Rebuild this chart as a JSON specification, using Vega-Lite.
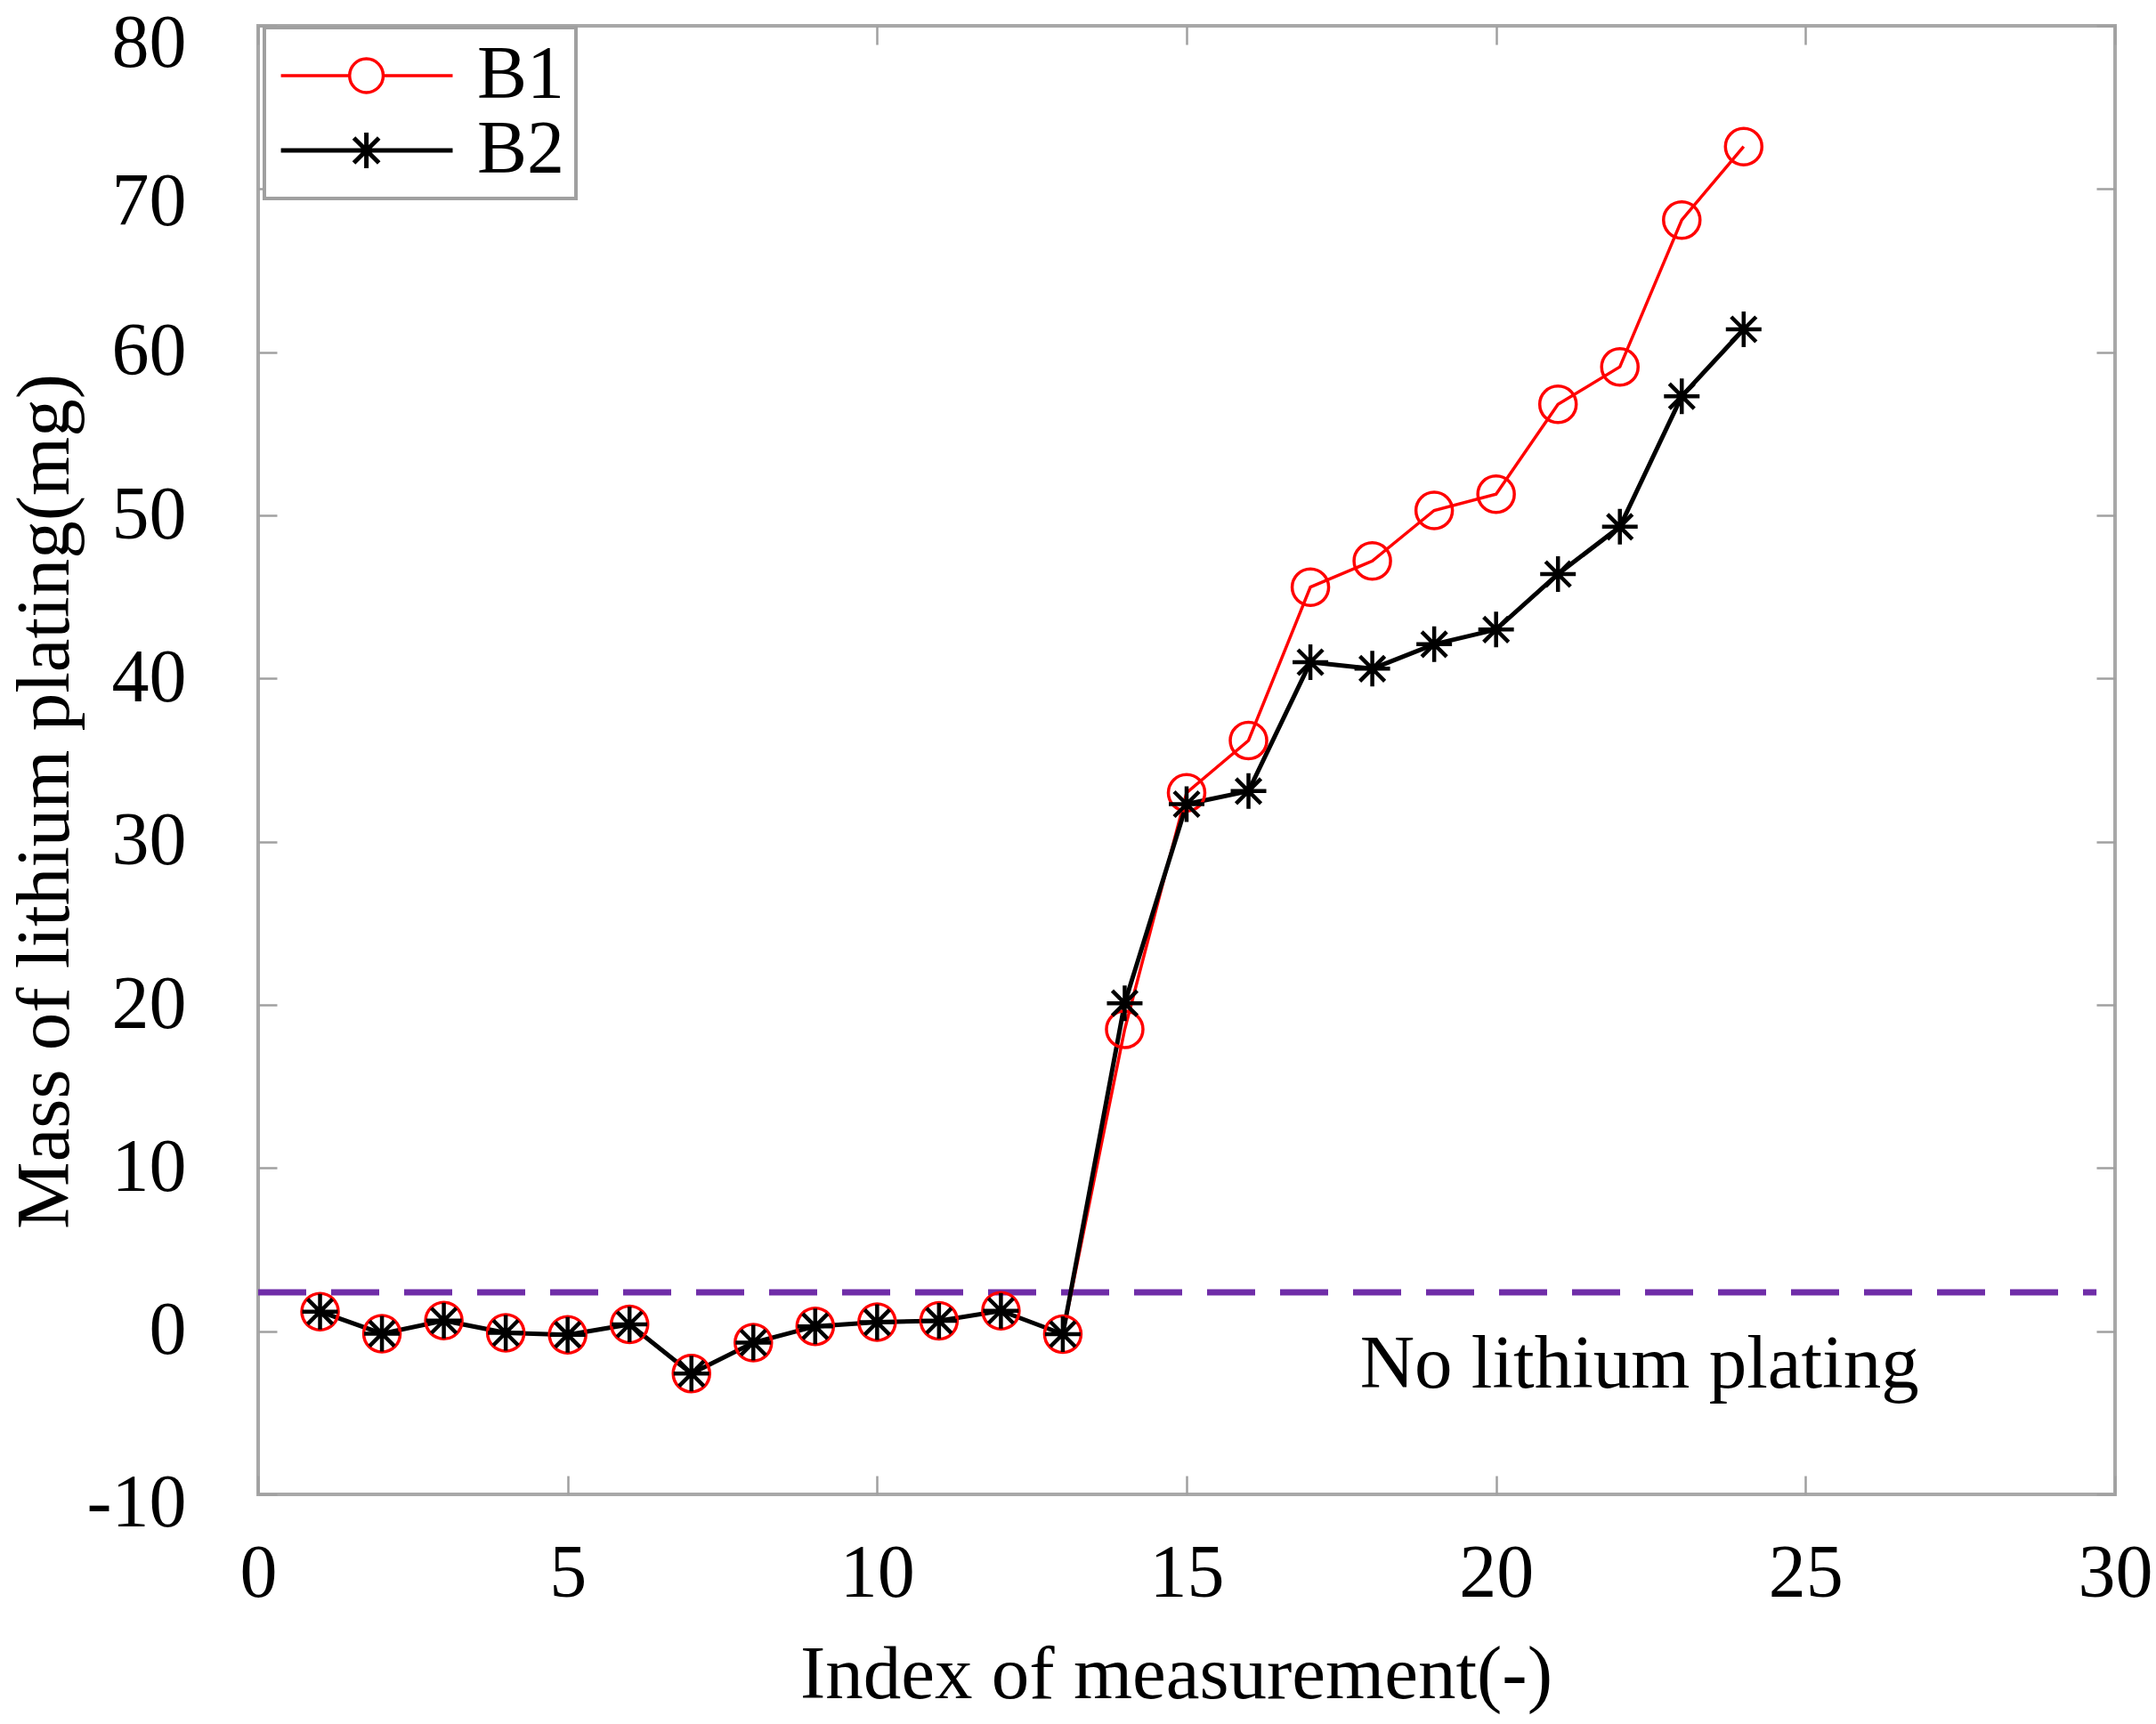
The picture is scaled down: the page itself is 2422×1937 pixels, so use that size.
{
  "$schema": "https://vega.github.io/schema/vega-lite/v6.json",
  "width": 2086,
  "height": 1650,
  "autosize": {"type": "none"},
  "padding": {"left": 290, "top": 29, "right": 46, "bottom": 258},
  "background": "white",
  "datasets": {
    "plating": [
      {"index": 1, "mass": 1.2, "battery": "B1"},
      {"index": 2, "mass": -0.15, "battery": "B1"},
      {"index": 3, "mass": 0.65, "battery": "B1"},
      {"index": 4, "mass": -0.1, "battery": "B1"},
      {"index": 5, "mass": -0.22, "battery": "B1"},
      {"index": 6, "mass": 0.42, "battery": "B1"},
      {"index": 7, "mass": -2.6, "battery": "B1"},
      {"index": 8, "mass": -0.7, "battery": "B1"},
      {"index": 9, "mass": 0.3, "battery": "B1"},
      {"index": 10, "mass": 0.55, "battery": "B1"},
      {"index": 11, "mass": 0.64, "battery": "B1"},
      {"index": 12, "mass": 1.25, "battery": "B1"},
      {"index": 13, "mass": -0.18, "battery": "B1"},
      {"index": 14, "mass": 18.5, "battery": "B1"},
      {"index": 15, "mass": 33.0, "battery": "B1"},
      {"index": 16, "mass": 36.2, "battery": "B1"},
      {"index": 17, "mass": 45.6, "battery": "B1"},
      {"index": 18, "mass": 47.2, "battery": "B1"},
      {"index": 19, "mass": 50.3, "battery": "B1"},
      {"index": 20, "mass": 51.3, "battery": "B1"},
      {"index": 21, "mass": 56.8, "battery": "B1"},
      {"index": 22, "mass": 59.1, "battery": "B1"},
      {"index": 23, "mass": 68.1, "battery": "B1"},
      {"index": 24, "mass": 72.6, "battery": "B1"},
      {"index": 1, "mass": 1.2, "battery": "B2"},
      {"index": 2, "mass": -0.15, "battery": "B2"},
      {"index": 3, "mass": 0.65, "battery": "B2"},
      {"index": 4, "mass": -0.1, "battery": "B2"},
      {"index": 5, "mass": -0.22, "battery": "B2"},
      {"index": 6, "mass": 0.42, "battery": "B2"},
      {"index": 7, "mass": -2.6, "battery": "B2"},
      {"index": 8, "mass": -0.7, "battery": "B2"},
      {"index": 9, "mass": 0.3, "battery": "B2"},
      {"index": 10, "mass": 0.55, "battery": "B2"},
      {"index": 11, "mass": 0.64, "battery": "B2"},
      {"index": 12, "mass": 1.25, "battery": "B2"},
      {"index": 13, "mass": -0.18, "battery": "B2"},
      {"index": 14, "mass": 20.1, "battery": "B2"},
      {"index": 15, "mass": 32.3, "battery": "B2"},
      {"index": 16, "mass": 33.1, "battery": "B2"},
      {"index": 17, "mass": 41.0, "battery": "B2"},
      {"index": 18, "mass": 40.6, "battery": "B2"},
      {"index": 19, "mass": 42.1, "battery": "B2"},
      {"index": 20, "mass": 43.0, "battery": "B2"},
      {"index": 21, "mass": 46.4, "battery": "B2"},
      {"index": 22, "mass": 49.3, "battery": "B2"},
      {"index": 23, "mass": 57.3, "battery": "B2"},
      {"index": 24, "mass": 61.4, "battery": "B2"}
    ],
    "threshold": [{"start": 0, "end": 29.7, "mass": 2.38}],
    "notes": [{"index": 17.8, "mass": -3.45, "label": "No lithium plating"}]
  },
  "layer": [
    {
      "data": {"name": "threshold"},
      "mark": {"type": "rule", "color": "#6f2da8", "strokeWidth": 7, "strokeDash": [54, 28]},
      "encoding": {
        "x": {
          "field": "start",
          "type": "quantitative",
          "scale": {"domain": [0, 30], "nice": false},
          "axis": {"orient": "top", "labels": false, "title": null, "values": [0, 5, 10, 15, 20, 25, 30], "tickSize": -21, "domain": false, "grid": false}
        },
        "x2": {"field": "end"},
        "y": {
          "field": "mass",
          "type": "quantitative",
          "scale": {"domain": [-10, 80], "nice": false},
          "axis": {"orient": "right", "labels": false, "title": null, "values": [-10, 0, 10, 20, 30, 40, 50, 60, 70, 80], "tickSize": -21, "domain": false, "grid": false}
        }
      }
    },
    {
      "data": {"name": "plating"},
      "mark": {"type": "line"},
      "encoding": {
        "x": {
          "field": "index",
          "type": "quantitative",
          "title": "Index of measurement(-)",
          "axis": {
            "orient": "bottom",
            "values": [0, 5, 10, 15, 20, 25, 30],
            "tickSize": -21,
            "labelPadding": 135,
            "labelFlush": false,
            "labelBaseline": "alphabetic",
            "labelExpr": "'' + datum.value",
            "titleX": 1031,
            "titleY": 228,
            "titleBaseline": "alphabetic",
            "titleAlign": "center"
          }
        },
        "y": {
          "field": "mass",
          "type": "quantitative",
          "title": "Mass of lithium plating(mg)",
          "axis": {
            "orient": "left",
            "values": [-10, 0, 10, 20, 30, 40, 50, 60, 70, 80],
            "tickSize": -21,
            "labelPadding": 102,
            "labelAlign": "right",
            "labelBaseline": "middle",
            "labelExpr": "'' + datum.value",
            "labelOffset": {
              "condition": [
                {"test": "datum.value === 80", "value": 20},
                {"test": "datum.value === 70", "value": 15},
                {"test": "datum.value === -10", "value": 10}
              ],
              "value": 0
            },
            "titleX": -214,
            "titleY": 871,
            "titleAngle": -90,
            "titleBaseline": "alphabetic",
            "titleAlign": "center"
          }
        },
        "color": {
          "field": "battery",
          "type": "nominal",
          "scale": {"domain": ["B1", "B2"], "range": ["#ff0000", "#000000"]},
          "legend": {
            "title": null,
            "orient": "none",
            "legendX": 7,
            "legendY": 2,
            "padding": 12,
            "fillColor": "white",
            "strokeColor": "#a0a0a0",
            "cornerRadius": 0,
            "rowPadding": 0,
            "labelFontSize": 84,
            "labelFont": "Liberation Serif",
            "labelColor": "black",
            "labelOffset": 143,
            "labelExpr": "datum.label + '\u00a0'",
            "symbolSize": 3600,
            "symbolStrokeWidth": 4,
            "encode": {
              "legend": {"update": {"strokeWidth": {"value": 4}}}
            }
          }
        },
        "strokeWidth": {
          "field": "battery",
          "type": "nominal",
          "scale": {"domain": ["B1", "B2"], "range": [3.5, 5]},
          "legend": null
        }
      }
    },
    {
      "data": {"name": "plating"},
      "transform": [{"filter": "false"}],
      "mark": {"type": "point", "filled": false, "size": 3600, "strokeWidth": 4, "opacity": 1},
      "encoding": {
        "x": {"field": "index", "type": "quantitative", "axis": null},
        "y": {"field": "mass", "type": "quantitative", "axis": null},
        "color": {"field": "battery", "type": "nominal"},
        "shape": {
          "field": "battery",
          "type": "nominal",
          "scale": {
            "domain": ["B1", "B2"],
            "range": [
              "M-1.18,0H1.39M2.65,0H5.25M2.65,0A0.63,0.63 0 1 1 1.39,0A0.63,0.63 0 1 1 2.65,0",
              "M-1.18,0H5.25M2.02,-0.67V0.67M1.55,-0.47L2.49,0.47M1.55,0.47L2.49,-0.47"
            ]
          }
        }
      }
    },
    {
      "data": {"name": "plating"},
      "transform": [{"filter": "datum.battery === 'B1'"}],
      "mark": {"type": "point", "shape": "circle", "filled": false, "color": "#ff0000", "size": 1681, "strokeWidth": 3.5, "opacity": 1},
      "encoding": {
        "x": {"field": "index", "type": "quantitative", "axis": null},
        "y": {"field": "mass", "type": "quantitative", "axis": null}
      }
    },
    {
      "data": {"name": "plating"},
      "transform": [{"filter": "datum.battery === 'B2'"}],
      "mark": {"type": "point", "shape": "M-1,0H1M0,-1V1M-0.7,-0.7L0.7,0.7M-0.7,0.7L0.7,-0.7", "filled": false, "color": "#000000", "size": 1600, "strokeWidth": 4.5, "opacity": 1},
      "encoding": {
        "x": {"field": "index", "type": "quantitative", "axis": null},
        "y": {"field": "mass", "type": "quantitative", "axis": null}
      }
    },
    {
      "data": {"name": "notes"},
      "mark": {"type": "text", "align": "left", "baseline": "alphabetic", "font": "Liberation Serif", "fontSize": 85, "color": "black"},
      "encoding": {
        "x": {"field": "index", "type": "quantitative", "axis": null},
        "y": {"field": "mass", "type": "quantitative", "axis": null},
        "text": {"field": "label"}
      }
    }
  ],
  "resolve": {"axis": {"x": "independent", "y": "independent"}},
  "config": {
    "view": {"stroke": "#a8a8a8", "strokeWidth": 4},
    "axis": {
      "domain": false,
      "grid": false,
      "tickColor": "#a0a0a0",
      "tickWidth": 2.5,
      "labelFont": "Liberation Serif",
      "labelFontSize": 84,
      "labelColor": "black",
      "titleFont": "Liberation Serif",
      "titleFontSize": 85,
      "titleFontWeight": "normal",
      "titleColor": "black"
    }
  }
}
